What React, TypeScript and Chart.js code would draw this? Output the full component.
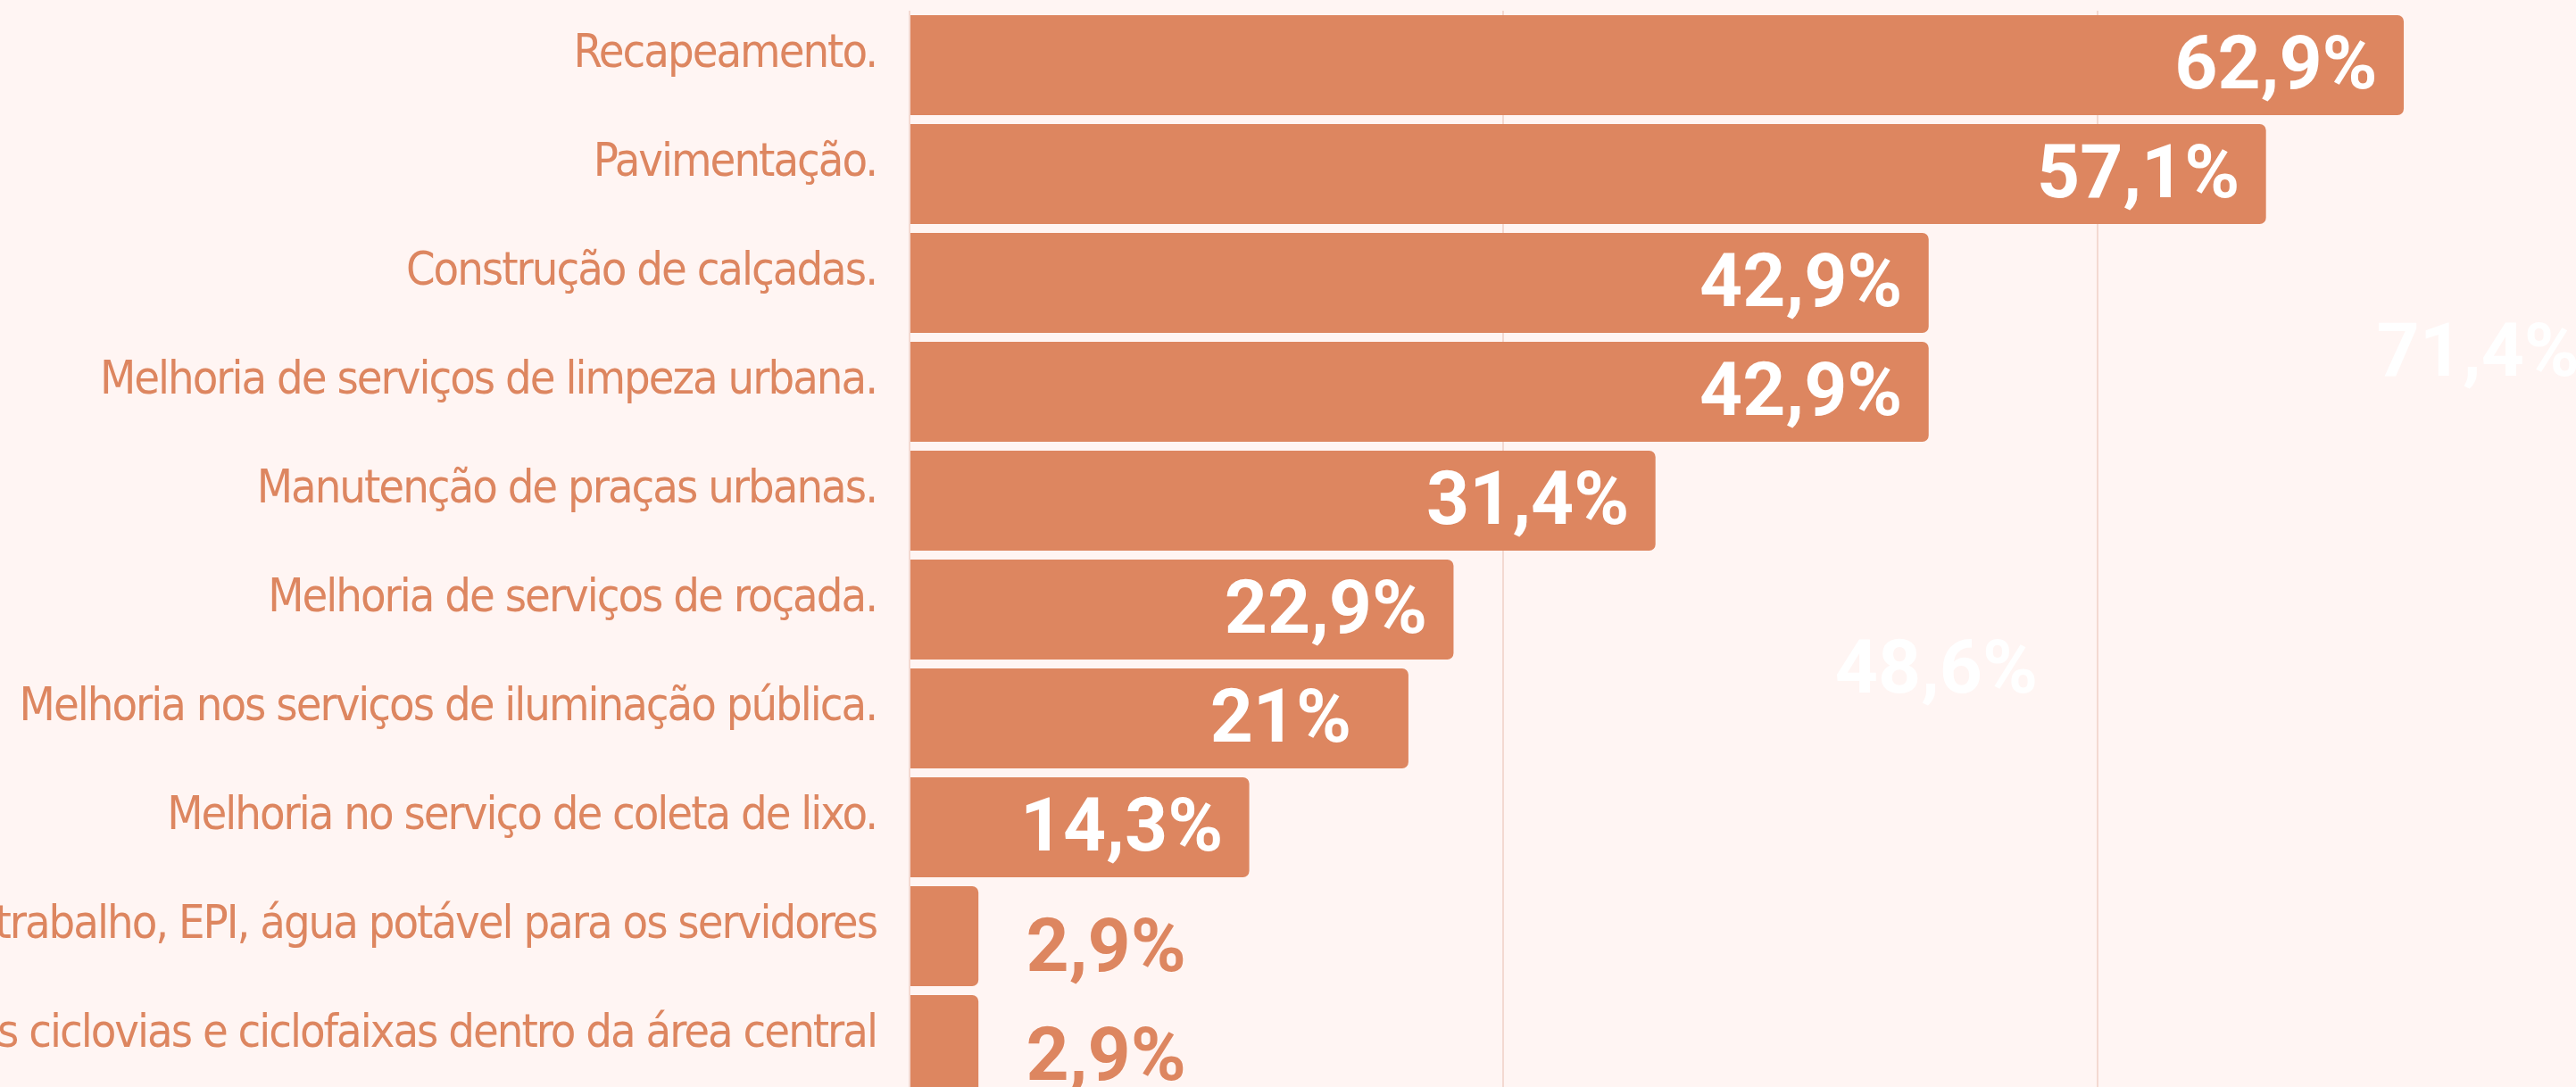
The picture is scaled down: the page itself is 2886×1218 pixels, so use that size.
import React, { useEffect, useRef } from "react";
import { Chart, registerables } from "chart.js";

Chart.register(...registerables);

const categories: string[] = [
  "Recapeamento.",
  "Pavimentação.",
  "Construção de calçadas.",
  "Melhoria de serviços de limpeza urbana.",
  "Manutenção de praças urbanas.",
  "Melhoria de serviços de roçada.",
  "Melhoria nos serviços de iluminação pública.",
  "Melhoria no serviço de coleta de lixo.",
  "trabalho, EPI, água potável para os servidores",
  "s ciclovias e ciclofaixas dentro da área central",
];

const values: number[] = [62.9, 57.1, 42.9, 42.9, 31.4, 22.9, 21, 14.3, 2.9, 2.9];

// faint white labels visible on the background (values and row positions)
const ghostValues: number[] = [71.4, 48.6];
const ghostRows: number[] = [2.61, 5.52];

const xTicks: number[] = [0, 25, 50];

const BG = "#FFF5F3";
const BAR = "#DD8660";
const GRID = "#F3D9D1";
const VALUE_FONT = "bold 84px Roboto";

const fmt = (v: number) => String(v).replace(".", ",") + "%";

const spacingPlugin = {
  id: "tickSpacing",
  beforeDraw(chart: any) {
    (chart.ctx as any).letterSpacing = "-2px";
  },
  afterDraw(chart: any) {
    (chart.ctx as any).letterSpacing = "0px";
  },
};

const labelPlugin = {
  id: "valueLabels",
  afterDatasetsDraw(chart: any) {
    const ctx = chart.ctx as CanvasRenderingContext2D;
    const meta = chart.getDatasetMeta(0);
    ctx.save();
    (ctx as any).letterSpacing = "0px";
    ctx.font = VALUE_FONT;
    ctx.textAlign = "center";
    ctx.textBaseline = "alphabetic";
    meta.data.forEach((el: any, i: number) => {
      const v = values[i];
      const len = el.x - el.base;
      if (len > 250) {
        ctx.fillStyle = "#FFFFFF";
        ctx.fillText(fmt(v), el.x - 143, el.y + 26);
      } else {
        ctx.fillStyle = BAR;
        ctx.fillText(fmt(v), el.x + 143, el.y + 39);
      }
    });
    const xs = chart.scales.x;
    const ys = chart.scales.y;
    ctx.fillStyle = "#FFFFFF";
    ghostValues.forEach((v, i) => {
      const px = xs.getPixelForValue(v);
      const py = ys.getPixelForValue(ghostRows[i]);
      ctx.fillText(fmt(v), px - 143, py + 30);
    });
    ctx.restore();
  },
};

export default function App() {
  const ref = useRef<HTMLCanvasElement | null>(null);
  useEffect(() => {
    document.body.style.background = BG;
    const canvas = ref.current!;
    const chart = new Chart(canvas, {
      type: "bar",
      data: {
        labels: categories,
        datasets: [
          {
            data: values,
            backgroundColor: BAR,
            borderRadius: 7,
            borderSkipped: "start",
            barPercentage: 0.918,
            categoryPercentage: 1,
          },
        ],
      },
      options: {
        indexAxis: "y",
        animation: false,
        responsive: false,
        layout: { padding: { top: 12, bottom: 0, right: 4, left: 0 } },
        plugins: {
          legend: { display: false },
          tooltip: { enabled: false },
          title: { display: false },
        },
        scales: {
          x: {
            min: 0,
            max: 70,
            afterBuildTicks: (scale: any) => {
              scale.ticks = xTicks.map((v) => ({ value: v }));
            },
            afterFit: (scale: any) => {
              scale.height = 0;
              scale.paddingLeft = 0;
              scale.paddingRight = 0;
            },
            ticks: { display: false },
            grid: { color: GRID, lineWidth: 2, drawTicks: false },
            border: { display: false },
          },
          y: {
            afterFit: (scale: any) => {
              scale.width = 1019;
              scale.paddingTop = 0;
              scale.paddingBottom = 0;
            },
            ticks: {
              color: BAR,
              padding: 37,
              labelOffset: -12,
              autoSkip: false,
              font: { family: "'DejaVu Sans Condensed', 'DejaVu Sans', sans-serif", size: 52 },
            },
            grid: { display: false, drawTicks: false },
            border: { display: false },
          },
        },
      },
      plugins: [spacingPlugin, labelPlugin],
    });
    return () => chart.destroy();
  }, []);

  return (
    <div
      style={{
        position: "fixed",
        left: 0,
        top: 0,
        width: 2886,
        height: 1218,
        overflow: "hidden",
        background: BG,
      }}
    >
      <canvas ref={ref} width={2886} height={1232} style={{ width: 2886, height: 1232, display: "block" }} />
    </div>
  );
}
